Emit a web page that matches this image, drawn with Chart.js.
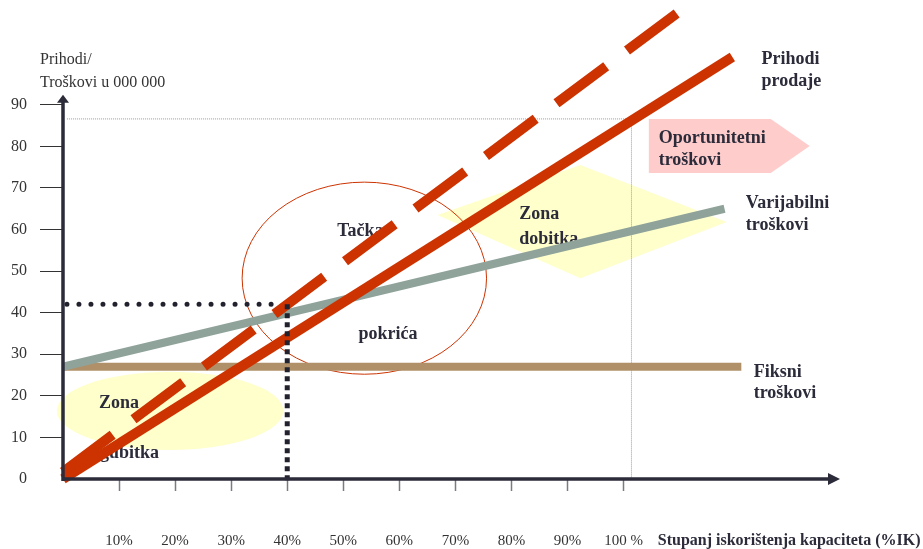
<!DOCTYPE html>
<html>
<head>
<meta charset="utf-8">
<script src="https://cdn.jsdelivr.net/npm/chart.js@4"></script>
<style>
html, body { margin: 0; padding: 0; background: #fff; }
canvas { display: block; }
</style>
</head>
<body>
<canvas id="chart" width="923" height="549"></canvas>
<script>
// osi
const xTicks = [10, 20, 30, 40, 50, 60, 70, 80, 90, 100];
const yTicks = [0, 10, 20, 30, 40, 50, 60, 70, 80, 90];

// linije (x = % kapaciteta, y = prihodi/troskovi)
const fiksni = [{x: 0, y: 27}, {x: 121, y: 27}];
const varijabilni = [{x: 0, y: 27}, {x: 118, y: 65}];
const prihodi = [{x: 0, y: 0}, {x: 119.4, y: 101.5}];
const prihodiCrtkano = [{x: 0, y: 1.7}, {x: 109.6, y: 112.1}];
const tackaY = [{x: 0.7, y: 42}, {x: 38.7, y: 42}];
const tackaX = [{x: 40, y: 42}, {x: 40, y: -1}];
const punKapacitet = [{x: 0.7, y: 86.6}, {x: 101.4, y: 86.6}, {x: 101.4, y: 0}];

const SERIF = "'Liberation Serif', 'Times New Roman', serif";
const TEXT = '#2b2b3a';

// natpisi na dijagramu
const natpisi = [
  {t: 'Prihodi/', x: -4.1, y: 99.8, b: false},
  {t: 'Troškovi u 000 000', x: -4.1, y: 94.3, b: false},
  {t: 'Prihodi', x: 124.6, y: 99.8, b: true},
  {t: 'prodaje', x: 124.6, y: 94.5, b: true},
  {t: 'Oportunitetni', x: 106.25, y: 80.8, b: true},
  {t: 'troškovi', x: 106.25, y: 75.5, b: true},
  {t: 'Varijabilni', x: 121.8, y: 65.2, b: true},
  {t: 'troškovi', x: 121.8, y: 59.9, b: true},
  {t: 'Fiksni', x: 123.2, y: 24.5, b: true},
  {t: 'troškovi', x: 123.2, y: 19.5, b: true},
  {t: 'Tačka', x: 48.9, y: 58.4, b: true},
  {t: 'pokrića', x: 52.7, y: 33.7, b: true},
  {t: 'Zona', x: 6.4, y: 17.1, b: true},
  {t: 'gubitka', x: 6.6, y: 5.1, b: true},
  {t: 'Zona', x: 81.4, y: 62.5, b: true},
  {t: 'dobitka', x: 81.4, y: 56.5, b: true}
];

const crtez = {
  id: 'crtez',
  beforeDatasetsDraw(chart) {
    const {ctx, scales: {x, y}} = chart;
    const px = v => x.getPixelForValue(v);
    const py = v => y.getPixelForValue(v);
    ctx.save();

    // zona gubitka
    ctx.fillStyle = '#ffffcc';
    ctx.beginPath();
    ctx.ellipse(px(19.1), py(16.4), px(39.3) - px(19.1), py(7) - py(16.4), 0, 0, Math.PI * 2);
    ctx.fill();

    // zona dobitka
    ctx.beginPath();
    ctx.moveTo(px(66.8), py(63.5));
    ctx.lineTo(px(92.3), py(75.5));
    ctx.lineTo(px(118.4), py(61.8));
    ctx.lineTo(px(92.3), py(48.3));
    ctx.closePath();
    ctx.fill();

    // tacka pokrica
    ctx.strokeStyle = '#cc3300';
    ctx.lineWidth = 1;
    ctx.beginPath();
    ctx.ellipse(px(53.75), py(48.3), px(75.55) - px(53.75), py(25.2) - py(48.3), 0, 0, Math.PI * 2);
    ctx.stroke();

    // oportunitetni troskovi
    ctx.fillStyle = '#ffcccc';
    ctx.beginPath();
    ctx.moveTo(px(104.5), py(86.6));
    ctx.lineTo(px(126.25), py(86.6));
    ctx.lineTo(px(133.2), py(80.1));
    ctx.lineTo(px(126.25), py(73.6));
    ctx.lineTo(px(104.5), py(73.6));
    ctx.closePath();
    ctx.fill();

    ctx.textBaseline = 'alphabetic';
    ctx.textAlign = 'left';
    natpisi.forEach(n => {
      ctx.font = n.b ? 'bold 18px ' + SERIF : '16px ' + SERIF;
      ctx.fillStyle = n.b ? TEXT : '#333';
      ctx.fillText(n.t, px(n.x), py(n.y));
    });
    ctx.font = 'bold 16px ' + SERIF;
    ctx.fillStyle = TEXT;
    ctx.fillText('Stupanj iskorištenja kapaciteta (%IK)', px(106.1), py(-15.9));
    ctx.restore();
  },
  afterDatasetsDraw(chart) {
    const {ctx, scales: {x, y}} = chart;
    const x0 = x.getPixelForValue(0), y0 = y.getPixelForValue(0);
    const yTop = y.getPixelForValue(92.4), xEnd = x.right;
    ctx.save();
    ctx.strokeStyle = TEXT;
    ctx.fillStyle = TEXT;
    ctx.lineWidth = 3.5;
    ctx.beginPath();
    ctx.moveTo(x0, y0 + 2);
    ctx.lineTo(x0, yTop + 6);
    ctx.moveTo(x0 - 1.5, y0);
    ctx.lineTo(xEnd - 10, y0);
    ctx.stroke();
    ctx.beginPath();
    ctx.moveTo(x0, yTop);
    ctx.lineTo(x0 - 6, yTop + 8);
    ctx.lineTo(x0 + 6, yTop + 8);
    ctx.closePath();
    ctx.fill();
    ctx.beginPath();
    ctx.moveTo(xEnd, y0);
    ctx.lineTo(xEnd - 12, y0 - 6);
    ctx.lineTo(xEnd - 12, y0 + 6);
    ctx.closePath();
    ctx.fill();
    ctx.restore();
  }
};

const linija = (data, color, width, extra) => Object.assign({
  data: data,
  showLine: true,
  borderColor: color,
  borderWidth: width,
  pointRadius: 0,
  fill: false,
  clip: false
}, extra || {});

const config = {
  type: 'scatter',
  data: {
    datasets: [
      linija(tackaX, '#22222e', 5, {borderDash: [5, 4], order: 1}),
      linija(tackaY, '#22222e', 5, {borderDash: [0.01, 12], borderCapStyle: 'round', order: 2}),
      linija(prihodiCrtkano, '#cc3300', 10, {borderDash: [62, 26], order: 3}),
      linija(prihodi, '#cc3300', 10, {label: 'Prihodi prodaje', order: 4}),
      linija(varijabilni, '#8fa39a', 8, {label: 'Varijabilni troškovi', order: 5}),
      linija(fiksni, '#b09068', 8, {label: 'Fiksni troškovi', order: 6}),
      linija(punKapacitet, '#9a9a9a', 1, {borderDash: [1, 1], order: 7})
    ]
  },
  options: {
    responsive: false,
    animation: false,
    layout: {padding: {top: 5, right: 83, bottom: 0, left: 0}},
    plugins: {
      legend: {display: false},
      tooltip: {enabled: false}
    },
    scales: {
      x: {
        type: 'linear',
        min: 0,
        max: 138.6,
        afterBuildTicks: s => { s.ticks = xTicks.map(v => ({value: v})); },
        afterFit: s => { s.height = 70; s.paddingLeft = 0; s.paddingRight = 0; },
        border: {display: false},
        grid: {
          drawOnChartArea: false,
          tickLength: 12,
          tickColor: '#7a7a80',
          tickWidth: 1.5
        },
        ticks: {
          autoSkip: false,
          maxRotation: 0,
          padding: 41,
          color: '#333',
          font: {family: SERIF, size: 15},
          callback: v => v === 100 ? '100 %' : v + '%'
        }
      },
      y: {
        type: 'linear',
        min: 0,
        max: 114,
        afterBuildTicks: s => { s.ticks = yTicks.map(v => ({value: v})); },
        afterFit: s => { s.width = 63; s.paddingTop = 0; s.paddingBottom = 0; },
        border: {display: false},
        grid: {
          drawOnChartArea: false,
          tickLength: 23,
          tickColor: c => c.tick && c.tick.value === 0 ? 'rgba(0,0,0,0)' : '#333',
          tickWidth: 1
        },
        ticks: {
          padding: 13,
          color: '#333',
          font: {family: SERIF, size: 16},
          callback: v => String(v)
        }
      }
    }
  },
  plugins: [crtez]
};

const chart = new Chart(document.getElementById('chart').getContext('2d'), config);
</script>
</body>
</html>
